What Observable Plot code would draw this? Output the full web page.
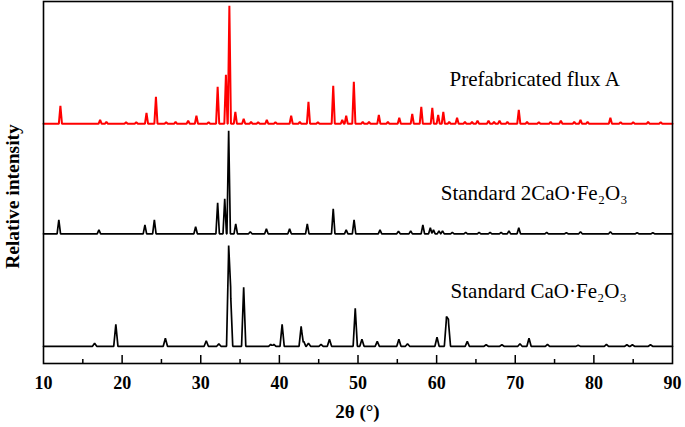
<!DOCTYPE html>
<html>
<head>
<meta charset="utf-8">
<script src="https://cdn.jsdelivr.net/npm/d3@7"></script>
<script src="https://cdn.jsdelivr.net/npm/@observablehq/plot@0.6"></script>
<style>
  html, body { margin: 0; padding: 0; background: #ffffff; }
  #wrap { position: relative; width: 685px; height: 427px; }
  #chart svg { display: block; }
  #xcap { position: absolute; left: 43px; top: 400px; width: 629px; height: 27px; line-height: 24px;
          text-align: center; font-family: 'Liberation Serif', 'Times New Roman', serif; font-weight: bold;
          font-size: 19px; color: #000000; }
</style>
</head>
<body>
<div id="wrap">
  <div id="chart"></div>
  <div id="xcap"></div>
</div>
<script>
// ---- Data (2θ in degrees, peak height in relative units) ----
const seriesNames = ["Prefabricated flux A", "Standard 2CaO·Fe₂O₃", "Standard CaO·Fe₂O₃"];
const seriesColors = ["#ff0000", "#000000", "#000000"];
const seriesOffsets = [239.7, 129.7, 17.2];          // stacking offset of each pattern
const seriesPeakHalfWidths = [0.2, 0.22, 0.27];      // peak half-width (°2θ)

const peaksFlux = [
  [12.15,18],[17.2,4],[18.0,2],[20.5,1.5],[21.8,1.5],[23.1,11],[24.3,27],[25.6,1.5],[26.8,2],
  [28.4,3],[29.45,8],[31.0,1.5],[32.15,37],[33.2,49],[33.64,118],[34.4,12],[35.46,5],[36.4,2],
  [37.3,1.5],[38.4,4],[39.5,1.5],[41.5,8],[42.6,2],[43.7,22],[44.9,1.5],[46.85,38],[48.0,4],
  [48.5,8],[49.47,42],[50.6,2],[51.4,2],[52.65,9],[53.8,2],[55.25,6],[56.9,10],[58.05,17],
  [59.45,16],[60.2,9],[60.85,12],[61.6,2],[62.6,6],[63.6,2],[64.5,2],[65.2,3],[66.6,3],[67.3,2],
  [68.0,3],[69.0,2],[70.45,14],[71.5,2],[73.0,1.5],[74.5,2],[75.8,3],[77.5,2],[78.3,4],[79.2,2],
  [82.1,6],[83.4,1.5],[85.0,1.5],[86.9,2],[88.5,1.5]
];
const peaksC2F = [
  [11.95,14],[17.05,4],[22.9,9],[24.1,14],[29.35,7],[32.15,31],[33.05,35],[33.55,103],[34.45,10],
  [36.3,2],[38.35,5],[41.3,5],[43.55,10],[46.85,25],[48.5,4],[49.5,14],[52.8,4],[55.15,2.5],
  [56.7,3],[58.25,9],[59.2,6],[59.6,4],[60.3,3],[60.75,3],[62.0,1.5],[63.7,1.5],[65.4,1.5],
  [66.8,1.5],[68.2,1.5],[69.2,3],[70.45,6],[74.0,1.5],[76.5,1],[78.3,2],[82.1,2],[85.5,1],[87.5,1]
];
const peaksCF = [
  [16.5,3],[19.2,22],[25.5,8],[30.7,5.5],[32.3,2.5],[33.55,97],[33.8,52],[35.46,59],[38.9,2],
  [39.3,2],[40.35,22],[42.77,20],[43.1,5],[43.7,3],[45.3,2],[46.37,7],[49.65,38],[50.5,7],
  [52.45,5],[55.2,7],[56.3,2.5],[60.05,9],[61.25,28],[61.5,25],[63.9,5],[66.3,1.5],[68.3,1.5],
  [70.6,2.5],[71.75,8],[74.1,2],[78.0,1],[81.6,2],[84.2,1.5],[84.9,1.5],[87.2,1.5]
];
const seriesPeaks = [peaksFlux, peaksC2F, peaksCF];

const labelX = [72.47, 72.4, 72.98];      // label centres (°2θ)
const labelY = [278, 164, 66];            // label baselines (relative units)

const xDomain = [10, 90];
const yDomain = [0, 362];
const majorTicks = [10, 20, 30, 40, 50, 60, 70, 80, 90];
const minorTicks = [15, 25, 35, 45, 55, 65, 75, 85];
const xLabel = "2θ (°)";
const yLabel = "Relative intensity";

// ---- Build line tables from the peak lists (stick peaks drawn as narrow triangles) ----
function profile(peaks, w, offset, name) {
  const xs = new Set([xDomain[0], xDomain[1]]);
  for (const [p] of peaks) { xs.add(p - w); xs.add(p); xs.add(p + w); }
  const sorted = [...xs].filter(x => x >= xDomain[0] && x <= xDomain[1]).sort((a, b) => a - b);
  return sorted.map(x => {
    let v = 0;
    for (const [p, h] of peaks) {
      const d = Math.abs(x - p);
      if (d < w) v += h * (1 - d / w);
    }
    return {series: name, x, y: offset + v};
  });
}
const lines = seriesNames.map((n, i) => profile(seriesPeaks[i], seriesPeakHalfWidths[i], seriesOffsets[i], n));
const labels = seriesNames.map((n, i) => ({name: n, x: labelX[i], y: labelY[i]}));

const INK = "#000000";
const serif = "'Liberation Serif', 'Times New Roman', serif";

const chart = Plot.plot({
  width: 685,
  height: 400,
  marginLeft: 43,
  marginRight: 13,
  marginTop: 1,
  marginBottom: 37,
  style: {fontFamily: serif, fontSize: "18px", fontWeight: "bold", background: "#ffffff", color: INK},
  x: {domain: xDomain},
  y: {domain: yDomain, axis: null},
  marks: [
    ...lines.map((data, i) => Plot.line(data, {x: "x", y: "y", stroke: seriesColors[i], strokeWidth: i === 0 ? 2 : 1.7, strokeLinejoin: "miter"})),
    Plot.ruleX(majorTicks.slice(1, -1), {x: d => d, y1: () => 0, y2: () => 8, stroke: INK, strokeWidth: 1.5}),
    Plot.ruleX(minorTicks, {x: d => d, y1: () => 0, y2: () => 4, stroke: INK, strokeWidth: 1.5}),
    Plot.frame({stroke: INK, strokeWidth: 1.6}),
    Plot.axisX({ticks: majorTicks, tickSize: 0, tickPadding: 13, tickFormat: d => String(d), label: null,
                fontSize: 18, fontWeight: "bold", fontFamily: serif}),
    Plot.text([yLabel], {text: d => d, frameAnchor: "left", y: () => 167, dx: -31, rotate: -90, textAnchor: "middle",
                         fontSize: 19.5, fontWeight: "bold", fontFamily: serif}),
    Plot.text(labels, {x: "x", y: "y", text: "name", textAnchor: "middle", lineAnchor: "bottom",
                       fontSize: 21, fontWeight: "normal", fontFamily: serif, fill: INK})
  ]
});
document.getElementById("chart").appendChild(chart);
document.getElementById("xcap").textContent = xLabel;
</script>
</body>
</html>
